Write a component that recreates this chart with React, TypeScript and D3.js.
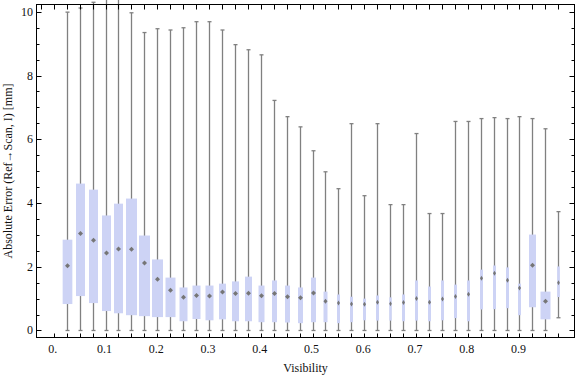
import React from "react";
import * as d3 from "d3";

// Visibility category of each box
const visibility = [
  0.025, 0.05, 0.075, 0.1, 0.125, 0.15, 0.175, 0.2, 0.225, 0.25,
  0.275, 0.3, 0.325, 0.35, 0.375, 0.4, 0.425, 0.45, 0.475, 0.5,
  0.525, 0.55, 0.575, 0.6, 0.625, 0.65, 0.675, 0.7, 0.725, 0.75,
  0.775, 0.8, 0.825, 0.85, 0.875, 0.9, 0.925, 0.95, 0.975,
];
const whiskerLow = [
  0, 0, 0, 0, 0, 0, 0, 0, 0, 0,
  0, 0, 0, 0, 0, 0, 0, 0, 0, 0,
  0, 0, 0, 0, 0, 0, 0, 0, 0, 0,
  0, 0, 0, 0, 0, 0, 0, 0, 0.4,
];
const q1 = [
  0.83, 1.08, 0.86, 0.61, 0.54, 0.48, 0.45, 0.42, 0.42, 0.29,
  0.36, 0.32, 0.35, 0.29, 0.29, 0.26, 0.26, 0.25, 0.23, 0.26,
  0.26, 0.23, 0.26, 0.32, 0.31, 0.31, 0.29, 0.31, 0.29, 0.32,
  0.39, 0.29, 0.66, 0.67, 0.7, 0.48, 0.73, 0.35, 1.05,
];
const median = [
  2.03, 3.04, 2.83, 2.43, 2.56, 2.55, 2.12, 1.61, 1.26, 1.04,
  1.1, 1.08, 1.21, 1.16, 1.17, 1.09, 1.16, 1.06, 1.03, 1.18,
  0.92, 0.86, 0.83, 0.82, 0.89, 0.84, 0.88, 1.0, 0.89, 0.99,
  1.07, 1.14, 1.64, 1.8, 1.58, 1.33, 2.05, 0.92, 1.5,
];
const q3 = [
  2.85, 4.61, 4.42, 3.61, 3.98, 4.14, 2.98, 2.23, 1.66, 1.35,
  1.41, 1.41, 1.47, 1.54, 1.69, 1.41, 1.57, 1.41, 1.35, 1.66,
  1.22, 1.13, 1.06, 1.0, 1.1, 1.04, 1.13, 1.57, 1.38, 1.57,
  1.44, 1.57, 1.91, 2.04, 1.98, 1.47, 3.01, 1.22, 2.01,
];
const whiskerHigh = [
  9.99, 10.12, 10.3, 10.6, 10.5, 9.97, 9.35, 9.47, 9.43, 9.5,
  9.69, 9.69, 9.43, 8.97, 8.81, 8.65, 7.22, 6.71, 6.39, 5.64,
  4.98, 4.45, 6.49, 4.23, 6.49, 3.95, 3.95, 6.18, 3.67, 3.67,
  6.56, 6.56, 6.65, 6.68, 6.65, 6.71, 6.65, 6.33, 3.73,
];
// relative sample size of each bin (drives box width)
const sampleSize = [
  97, 90, 90, 90, 90, 110, 110, 110, 100, 80,
  80, 80, 70, 70, 70, 60, 50, 50, 50, 50,
  40, 30, 30, 30, 30, 25, 30, 30, 30, 30,
  30, 30, 30, 30, 30, 30, 70, 100, 27,
];
const xTickLabels = ["0.", "0.1", "0.2", "0.3", "0.4", "0.5", "0.6", "0.7", "0.8", "0.9"];
const xTickValues = [0, 0.1, 0.2, 0.3, 0.4, 0.5, 0.6, 0.7, 0.8, 0.9];
const yTickValues = [0, 2, 4, 6, 8, 10];
const xLabel = "Visibility";
const yLabel = "Absolute Error (Ref\u2192Scan, I) [mm]";

const W = 576;
const H = 377;
const left = 36.5, right = 574.5, top = 4.5, bottom = 337.5;

export default function App() {
  const x = d3.scaleLinear().domain([-0.03344, 1.00633]).range([left, right]);
  const y = d3.scaleLinear().domain([-0.22, 10.23]).range([bottom, top]);
  const wScale = d3.scaleLinear().domain([0, 110]).range([0, 11]);

  const minorY = d3.range(0, 10.01, 0.5);
  const catTicks = [0, ...visibility];
  const topTicks = [-0.025, 0, ...visibility];

  const font = "'Liberation Serif', 'Times New Roman', serif";
  const boxFill = "#cdd3f5";
  const whisk = "#808080";

  return (
    <svg width={W} height={H} style={{ display: "block", position: "absolute", left: 0, top: 0 }}>
      <rect x={0} y={0} width={W} height={H} fill="#fff" />
      {/* boxes */}
      {visibility.map((v, i) => {
        const cx = Math.round(x(v)) + 0.5;
        const bw = wScale(sampleSize[i]);
        const hw = Math.min(2.5, bw / 2);
        const my = y(median[i]);
        return (
          <g key={i}>
            <line x1={cx} x2={cx} y1={y(whiskerLow[i])} y2={y(whiskerHigh[i])} stroke={whisk} strokeWidth={1.3} />
            <line x1={cx - 2} x2={cx + 2} y1={y(whiskerLow[i])} y2={y(whiskerLow[i])} stroke={whisk} strokeWidth={1.3} />
            <line x1={cx - 2} x2={cx + 2} y1={y(whiskerHigh[i])} y2={y(whiskerHigh[i])} stroke={whisk} strokeWidth={1.3} />
            <rect x={cx - bw / 2} y={y(q3[i])} width={bw} height={y(q1[i]) - y(q3[i])} fill={boxFill} />
            <path d={`M${cx - hw},${my} L${cx},${my - 2.5} L${cx + hw},${my} L${cx},${my + 2.5} Z`} fill="#767676" />
          </g>
        );
      })}
      {/* frame */}
      <rect x={left} y={top} width={right - left} height={bottom - top} fill="none" stroke="#000" strokeWidth={1} />
      {/* left/right ticks */}
      {minorY.map((v, i) => {
        const major = Math.abs(v / 2 - Math.round(v / 2)) < 1e-6;
        const len = major ? 5 : 3;
        const yy = Math.round(y(v)) + 0.5;
        return (
          <g key={"yt" + i}>
            <line x1={left} x2={left + len} y1={yy} y2={yy} stroke="#000" />
            <line x1={right} x2={right - len} y1={yy} y2={yy} stroke="#000" />
          </g>
        );
      })}
      {catTicks.map((v, i) => {
        const xx = Math.round(x(v)) + 0.5;
        return <line key={"bt" + i} x1={xx} x2={xx} y1={bottom} y2={bottom - 4} stroke="#000" />;
      })}
      {topTicks.map((v, i) => {
        const xx = Math.round(x(v)) + 0.5;
        return <line key={"tt" + i} x1={xx} x2={xx} y1={top} y2={top + 5} stroke="#000" />;
      })}
      {/* tick labels */}
      {yTickValues.map((v, i) => (
        <text key={"yl" + i} x={33} y={y(v) + 4} textAnchor="end" fontFamily={font} fontSize={12} fill="#111">
          {v}
        </text>
      ))}
      {xTickValues.map((v, i) => (
        <text key={"xl" + i} x={x(v) - 1} y={353} textAnchor="middle" fontFamily={font} fontSize={12} fill="#111">
          {xTickLabels[i]}
        </text>
      ))}
      <text x={(left + right) / 2} y={372} textAnchor="middle" fontFamily={font} fontSize={12} fill="#111">
        {xLabel}
      </text>
      <text
        transform={`translate(12,${(top + bottom) / 2}) rotate(-90)`}
        textAnchor="middle"
        fontFamily={font}
        fontSize={12}
        fill="#111"
      >
        {yLabel}
      </text>
    </svg>
  );
}
